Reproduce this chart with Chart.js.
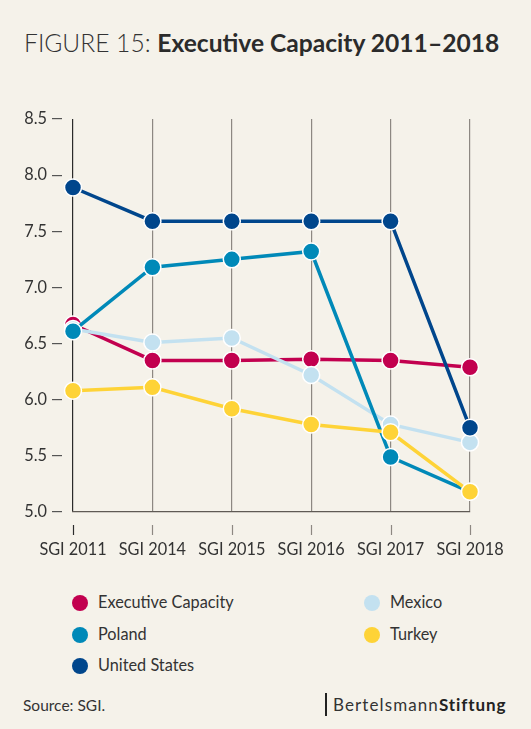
<!DOCTYPE html>
<html>
<head>
<meta charset="utf-8">
<script src="https://cdn.jsdelivr.net/npm/chart.js@4.4.1/dist/chart.umd.min.js"></script>
<style>
    body { margin: 0; background: #f5f2ea; font-family: Lato, sans-serif; color: #333; }
    .page { position: relative; width: 531px; height: 729px; overflow: hidden; }
    .title { position: absolute; left: 24px; top: 28px; font-size: 24.6px; color: #333; white-space: nowrap; }
    .title .lt { font-weight: 300; }
    .title b { font-weight: 700; color: #2b2b2b; }
    #chartBox { position: absolute; left: 0; top: 100px; width: 531px; height: 470px; }
    .legend-item { position: absolute; font-size: 16.3px; color: #333; line-height: 20px; white-space: nowrap; }
    .legend-item span.dot { display: inline-block; width: 16px; height: 16px; border-radius: 50%; vertical-align: -3px; margin-right: 10px; }
    .source { position: absolute; left: 23px; top: 696px; font-size: 15.5px; color: #333; }
    .brand { position: absolute; left: 325px; top: 693px; height: 23px; border-left: 2px solid #222; padding-left: 6px; font-size: 17px; line-height: 23px; letter-spacing: 1.1px; color: #333; }
    .brand b { color: #222; letter-spacing: 0.9px; }
</style>
</head>
<body>
<div class="page">
    <div class="title"><span class="lt">FIGURE 15: </span><b>Executive Capacity 2011–2018</b></div>
    <div id="chartBox"><canvas id="chart"></canvas></div>
    <div id="legend"></div>
    <div class="source">Source: SGI.</div>
    <div class="brand">Bertelsmann<b>Stiftung</b></div>
</div>
<script>
// Data
const years = ['SGI 2011', 'SGI 2014', 'SGI 2015', 'SGI 2016', 'SGI 2017', 'SGI 2018'];
const executiveCapacity = [6.67, 6.35, 6.35, 6.36, 6.35, 6.29];
const poland = [6.61, 7.18, 7.25, 7.32, 5.49, 5.18];
const mexico = [6.63, 6.51, 6.55, 6.22, 5.78, 5.62];
const turkey = [6.08, 6.11, 5.92, 5.78, 5.71, 5.18];
const unitedStates = [7.89, 7.59, 7.59, 7.59, 7.59, 5.75];
const yTicks = [5.0, 5.5, 6.0, 6.5, 7.0, 7.5, 8.0, 8.5];

const series = [
    { label: 'Executive Capacity', data: executiveCapacity, color: '#c2004f', order: 4 },
    { label: 'Poland', data: poland, color: '#0089b8', order: 2 },
    { label: 'United States', data: unitedStates, color: '#00468c', order: 0 },
    { label: 'Mexico', data: mexico, color: '#c3e1f0', order: 3 },
    { label: 'Turkey', data: turkey, color: '#fed337', order: 1 }
];

// Legend (two columns, like the original)
const legendSpots = [
    { left: 72, top: 592 }, { left: 72, top: 624 }, { left: 72, top: 655 },
    { left: 364, top: 592 }, { left: 364, top: 624 }
];
const legend = document.getElementById('legend');
series.forEach(function(s, i) {
    const item = document.createElement('div');
    item.className = 'legend-item';
    item.style.left = legendSpots[i].left + 'px';
    item.style.top = legendSpots[i].top + 'px';
    item.innerHTML = '<span class="dot" style="background:' + s.color + '"></span>' + s.label;
    legend.appendChild(item);
});

// short detached tick marks under the x axis
const detachedTicks = {
    id: 'detachedTicks',
    afterDraw: function(chart) {
        const ctx = chart.ctx;
        const xScale = chart.scales.x;
        const bottom = chart.chartArea.bottom;
        ctx.save();
        ctx.lineWidth = 1.2;
        xScale.ticks.forEach(function(t, i) {
            const x = Math.round(xScale.getPixelForTick(i)) + 0.5;
            ctx.strokeStyle = i === 0 ? '#2b2b2b' : '#8d8882';
            ctx.beginPath();
            ctx.moveTo(x, bottom + 13);
            ctx.lineTo(x, bottom + 23);
            ctx.stroke();
        });
        ctx.restore();
    }
};

Chart.defaults.font.family = 'Lato, sans-serif';
Chart.defaults.color = '#333';

new Chart(document.getElementById('chart'), {
    type: 'line',
    data: {
        labels: years,
        datasets: series.map(function(s) {
            return {
                label: s.label,
                data: s.data,
                order: s.order,
                borderColor: s.color,
                backgroundColor: s.color,
                pointBackgroundColor: s.color,
                pointBorderColor: '#ffffff',
                pointBorderWidth: 1.5,
                pointRadius: 8.5,
                borderWidth: 3.5,
                tension: 0,
                clip: false
            };
        })
    },
    plugins: [detachedTicks],
    options: {
        responsive: true,
        maintainAspectRatio: false,
        animation: false,
        layout: { padding: { top: 19, right: 61, left: 0, bottom: 0 } },
        plugins: { legend: { display: false }, tooltip: { enabled: false } },
        scales: {
            x: {
                offset: false,
                afterFit: function(scale) { scale.height = 58; },
                grid: {
                    offset: false,
                    color: function(ctx) { return ctx.index === 0 ? '#2b2b2b' : '#8d8882'; },
                    lineWidth: 1.2,
                    tickLength: 23,
                    tickColor: 'rgba(0,0,0,0)'
                },
                border: { display: true, color: '#5f5a55', width: 1.2 },
                ticks: { padding: 5, font: { size: 16.3 }, color: '#333', maxRotation: 0, autoSkip: false }
            },
            y: {
                min: 5.0,
                max: 8.5,
                afterFit: function(scale) { scale.width = 73; },
                afterBuildTicks: function(scale) { scale.ticks = yTicks.map(v => ({ value: v })); },
                grid: {
                    drawOnChartArea: false,
                    color: '#555',
                    lineWidth: 1.2,
                    tickLength: 21,
                    // tick drawn from the label towards the axis: draw 10px, then leave a gap
                    tickBorderDash: [10, 100]
                },
                border: { display: false },
                ticks: {
                    padding: 5,
                    font: { size: 16.3 },
                    color: '#333',
                    callback: function(v) { return Number(v).toFixed(1); }
                }
            }
        }
    }
});
</script>
</body>
</html>
